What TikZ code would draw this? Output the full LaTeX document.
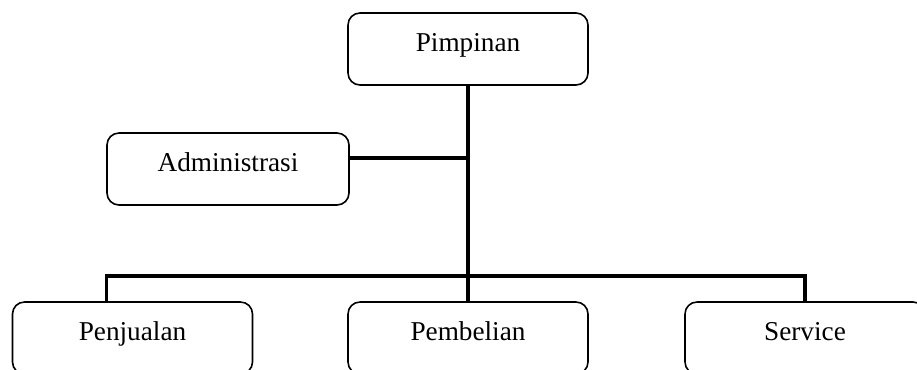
\documentclass[tikz,border=0pt]{standalone}
\usepackage{fontspec}
\setmainfont{Liberation Serif}
\usetikzlibrary{positioning,calc}

\begin{document}
\begin{tikzpicture}[
    text = black,
    unit/.style={draw, line width=0.9pt, rounded corners=0.24cm,
        minimum width=4.8cm, minimum height=1.44cm,
        font=\fontsize{15.5}{18}\selectfont, text height=0.7em, text depth=0.45em},
    link/.style={line width=2pt}
    ]
    \clip (0,0) rectangle (18.34,7.38);

    \node [unit] (pimpinan) at (9.36,6.40) {Pimpinan};
    \node [unit, minimum width=4.84cm] (admin) at (4.56,4.00) {Administrasi};

    \node [unit] (penjualan) at (2.65,0.62) {Penjualan};
    \node [unit] (pembelian) at (9.36,0.62) {Pembelian};
    \node [unit] (service) at (16.10,0.62) {Service};

    % garis bantu
    \coordinate (jual) at ([xshift=1.9cm]penjualan.north west);
    \coordinate (barL) at (jual |- 0,1.86);
    \coordinate (barR) at (service.north |- 0,1.86);
    \coordinate (adm) at ([yshift=0.22cm]admin.east);

    \draw [link] (pimpinan.south) -- (pembelian.north);
    \draw [link] (adm) -- (adm -| pimpinan.south);
    \draw [link] (jual) -- (barL) -- (barR) -- (service.north);
\end{tikzpicture}
\end{document}
